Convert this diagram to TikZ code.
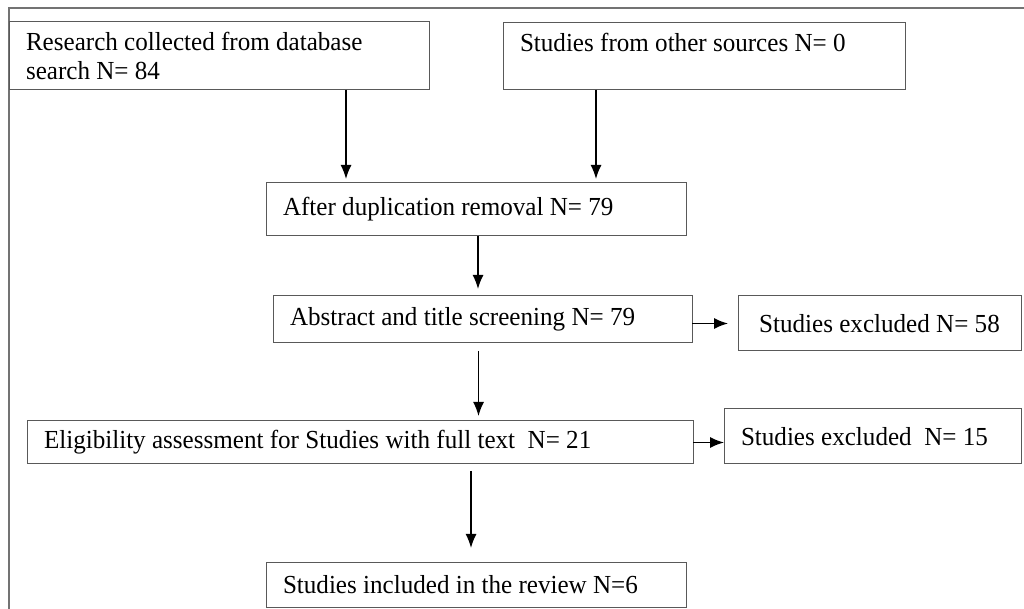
\documentclass[tikz,border=0pt]{standalone}
\usepackage{fontspec}
\setmainfont{Liberation Serif}[FakeStretch=0.965]
\usepackage{tikz}
\usetikzlibrary{arrows.meta}

\begin{document}
\begin{tikzpicture}[
    x=0.5pt, y=-0.5pt,
    stepbox/.style={rectangle, draw=black!65, line width=0.5pt, anchor=north west, outer sep=0pt,
        inner xsep=8.5pt, inner ysep=2pt, align=left, font=\fontsize{13pt}{14.5pt}\selectfont,
        execute at begin node={\spaceskip=0pt\xspaceskip=0pt\relax}},
    arrow/.style={-{Latex[length=7pt,width=5.5pt]}, line width=0.75pt, black},
    frame/.style={draw=black!55, line width=0.8pt}
]
\useasboundingbox (0,0) rectangle (1024,609);

% outer frame
\draw[frame] (9,609) -- (9,8) -- (1024,8);

\node[stepbox, text width=193pt, minimum height=34pt] (database) at (9,22) {Research collected from database\\search N= 84};
\node[stepbox, text width=184pt, minimum height=33.5pt] (othersrc) at (503,23) {Studies from other sources N= 0\\\mbox{}};
\node[stepbox, text width=193pt, minimum height=26.5pt] (dedup) at (266,183) {After duplication removal N= 79};
\node[stepbox, text width=192.5pt, minimum height=23.5pt] (screening) at (273,296) {Abstract and title screening N= 79};
\node[stepbox, align=center, minimum width=141.5pt, minimum height=27.5pt] (excluded1) at (738,296) {Studies excluded N= 58};
\node[stepbox, text width=316pt, minimum height=21.5pt] (eligibility) at (27,421) {Eligibility assessment for Studies with full text~ N= 21};
\node[stepbox, text width=131.5pt, minimum height=27.5pt] (excluded2) at (724,409) {Studies excluded~ N= 15};
\node[stepbox, text width=193pt, minimum height=22.5pt] (included) at (266,562) {Studies included in the review N=6};

\draw[arrow, shorten >=2pt] ([xshift=63.5pt]database.south) -- ([xshift=63.5pt]database.south |- dedup.north);
\draw[arrow, shorten >=2pt] ([xshift=-54pt]othersrc.south) -- ([xshift=-54pt]othersrc.south |- dedup.north);
\draw[arrow, shorten >=3.5pt] ([xshift=1pt]dedup.south) -- ([xshift=1pt]dedup.south |- screening.north);
\draw[arrow, shorten >=5pt] (screening.east |- excluded1.west) -- (excluded1.west);
\draw[arrow, shorten <=4pt, shorten >=2.5pt] ([xshift=-2pt]screening.south) -- ([xshift=-2pt]screening.south |- eligibility.north);
\draw[arrow] (eligibility.east) -- (eligibility.east -| excluded2.west);
\draw[arrow, shorten <=3.5pt, shorten >=7pt] ([xshift=55.5pt]eligibility.south) -- ([xshift=55.5pt]eligibility.south |- included.north);

\end{tikzpicture}
\end{document}
